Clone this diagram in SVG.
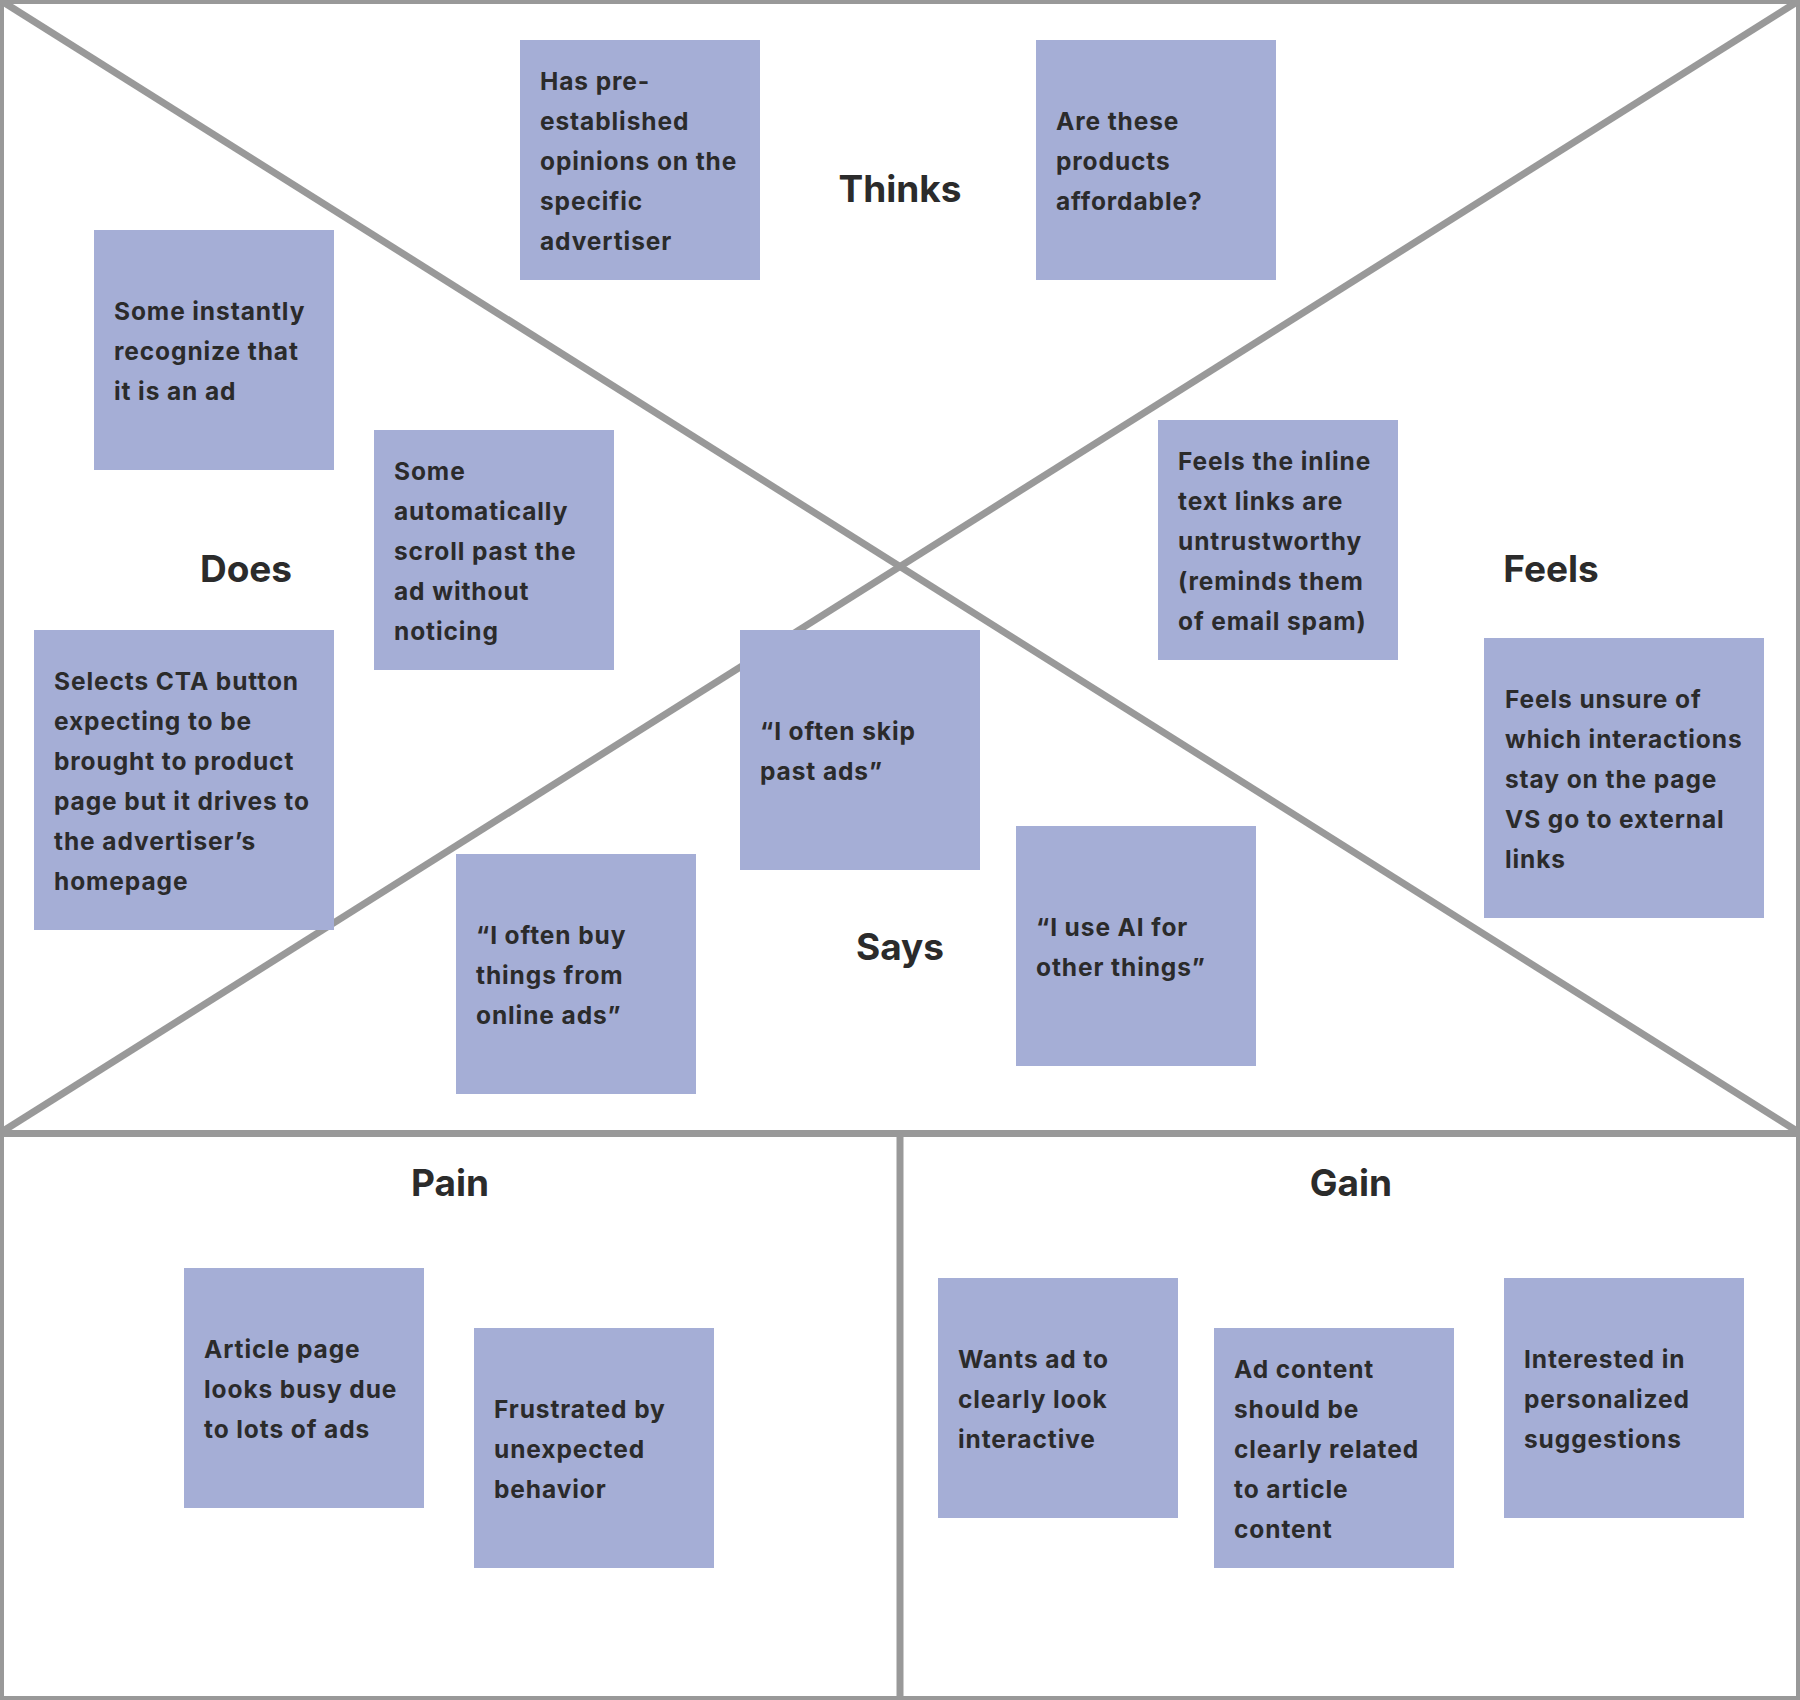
<svg xmlns="http://www.w3.org/2000/svg" width="1800" height="1700" viewBox="0 0 1800 1700">
<style>
.frame{fill:none;stroke:#999999;stroke-width:8}
.ln{stroke:#999999;stroke-width:7;fill:none}
.note{fill:#a5aed6}
.nt{font-family:Inter,"Liberation Sans",sans-serif;font-weight:650;font-size:24.5px;letter-spacing:0.9px;fill:#2b2b2b}
.hd{font-family:Inter,"Liberation Sans",sans-serif;font-weight:700;font-size:37px;fill:#2b2b2b;text-anchor:middle}
</style>
<rect x="0" y="0" width="1800" height="1700" fill="#ffffff"/>
<g id="connectors">
<rect class="frame" x="0" y="0" width="1800" height="1700"/>
<line class="ln" x1="0" y1="0" x2="1800" y2="1133"/>
<line class="ln" x1="1800" y1="0" x2="0" y2="1133"/>
<line class="ln" x1="0" y1="1133.5" x2="1800" y2="1133.5"/>
<line class="ln" x1="900" y1="1133" x2="900" y2="1700"/>
</g>
<g id="label-thinks"><text class="hd" x="900" y="202">Thinks</text></g>
<g id="label-does"><text class="hd" x="246" y="582">Does</text></g>
<g id="label-feels"><text class="hd" x="1551" y="582">Feels</text></g>
<g id="label-says"><text class="hd" x="900" y="960">Says</text></g>
<g id="label-pain"><text class="hd" x="450" y="1196">Pain</text></g>
<g id="label-gain"><text class="hd" x="1351" y="1196">Gain</text></g>

<g id="note-preestablished"><rect class="note" x="520" y="40" width="240" height="240"/>
<text class="nt"><tspan x="540" y="90">Has pre-</tspan><tspan x="540" y="130">established</tspan><tspan x="540" y="170">opinions on the</tspan><tspan x="540" y="210">specific</tspan><tspan x="540" y="250">advertiser</tspan></text></g>

<g id="note-affordable"><rect class="note" x="1036" y="40" width="240" height="240"/>
<text class="nt"><tspan x="1056" y="130">Are these</tspan><tspan x="1056" y="170">products</tspan><tspan x="1056" y="210">affordable?</tspan></text></g>

<g id="note-recognize"><rect class="note" x="94" y="230" width="240" height="240"/>
<text class="nt"><tspan x="114" y="320">Some instantly</tspan><tspan x="114" y="360">recognize that</tspan><tspan x="114" y="400">it is an ad</tspan></text></g>

<g id="note-scroll"><rect class="note" x="374" y="430" width="240" height="240"/>
<text class="nt"><tspan x="394" y="480">Some</tspan><tspan x="394" y="520">automatically</tspan><tspan x="394" y="560">scroll past the</tspan><tspan x="394" y="600">ad without</tspan><tspan x="394" y="640">noticing</tspan></text></g>

<g id="note-inline"><rect class="note" x="1158" y="420" width="240" height="240"/>
<text class="nt"><tspan x="1178" y="470">Feels the inline</tspan><tspan x="1178" y="510">text links are</tspan><tspan x="1178" y="550">untrustworthy</tspan><tspan x="1178" y="590">(reminds them</tspan><tspan x="1178" y="630">of email spam)</tspan></text></g>

<g id="note-cta"><rect class="note" x="34" y="630" width="300" height="300"/>
<text class="nt"><tspan x="54" y="690">Selects CTA button</tspan><tspan x="54" y="730">expecting to be</tspan><tspan x="54" y="770">brought to product</tspan><tspan x="54" y="810">page but it drives to</tspan><tspan x="54" y="850">the advertiser’s</tspan><tspan x="54" y="890">homepage</tspan></text></g>

<g id="note-skip"><rect class="note" x="740" y="630" width="240" height="240"/>
<text class="nt"><tspan x="760" y="740">“I often skip</tspan><tspan x="760" y="780">past ads”</tspan></text></g>

<g id="note-buy"><rect class="note" x="456" y="854" width="240" height="240"/>
<text class="nt"><tspan x="476" y="944">“I often buy</tspan><tspan x="476" y="984">things from</tspan><tspan x="476" y="1024">online ads”</tspan></text></g>

<g id="note-ai"><rect class="note" x="1016" y="826" width="240" height="240"/>
<text class="nt"><tspan x="1036" y="936">“I use AI for</tspan><tspan x="1036" y="976">other things”</tspan></text></g>

<g id="note-unsure"><rect class="note" x="1484" y="638" width="280" height="280"/>
<text class="nt"><tspan x="1505" y="708">Feels unsure of</tspan><tspan x="1505" y="748">which interactions</tspan><tspan x="1505" y="788">stay on the page</tspan><tspan x="1505" y="828">VS go to external</tspan><tspan x="1505" y="868">links</tspan></text></g>

<g id="note-busy"><rect class="note" x="184" y="1268" width="240" height="240"/>
<text class="nt"><tspan x="204" y="1358">Article page</tspan><tspan x="204" y="1398">looks busy due</tspan><tspan x="204" y="1438">to lots of ads</tspan></text></g>

<g id="note-frustrated"><rect class="note" x="474" y="1328" width="240" height="240"/>
<text class="nt"><tspan x="494" y="1418">Frustrated by</tspan><tspan x="494" y="1458">unexpected</tspan><tspan x="494" y="1498">behavior</tspan></text></g>

<g id="note-interactive"><rect class="note" x="938" y="1278" width="240" height="240"/>
<text class="nt"><tspan x="958" y="1368">Wants ad to</tspan><tspan x="958" y="1408">clearly look</tspan><tspan x="958" y="1448">interactive</tspan></text></g>

<g id="note-related"><rect class="note" x="1214" y="1328" width="240" height="240"/>
<text class="nt"><tspan x="1234" y="1378">Ad content</tspan><tspan x="1234" y="1418">should be</tspan><tspan x="1234" y="1458">clearly related</tspan><tspan x="1234" y="1498">to article</tspan><tspan x="1234" y="1538">content</tspan></text></g>

<g id="note-personalized"><rect class="note" x="1504" y="1278" width="240" height="240"/>
<text class="nt"><tspan x="1524" y="1368">Interested in</tspan><tspan x="1524" y="1408">personalized</tspan><tspan x="1524" y="1448">suggestions</tspan></text></g>
</svg>
